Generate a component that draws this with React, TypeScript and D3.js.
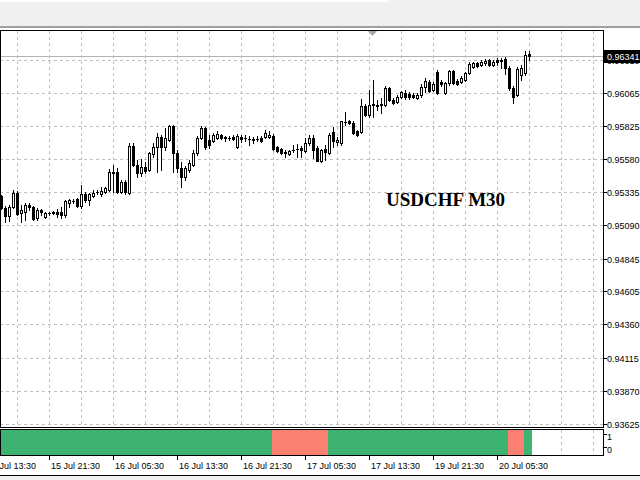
import React from 'react';
import * as d3 from 'd3';

// USDCHF M30 candles (bar 0 = oldest visible)
const openP = [
  0.95306, 0.95217, 0.95158, 0.95225, 0.95328, 0.95181, 0.95188, 0.95240, 0.95225, 0.95144,
  0.95203, 0.95151, 0.95181, 0.95181, 0.95188, 0.95188, 0.95166, 0.95254, 0.95269, 0.95284,
  0.95232, 0.95321, 0.95276, 0.95306, 0.95335, 0.95321, 0.95335, 0.95350, 0.95483, 0.95483,
  0.95335, 0.95409, 0.95328, 0.95674, 0.95534, 0.95475, 0.95520, 0.95497, 0.95615, 0.95667,
  0.95741, 0.95667, 0.95719, 0.95822, 0.95623, 0.95512, 0.95446, 0.95497, 0.95534, 0.95623,
  0.95733, 0.95807, 0.95719, 0.95711, 0.95733, 0.95755, 0.95733, 0.95733, 0.95741, 0.95667,
  0.95741, 0.95733, 0.95726, 0.95726, 0.95726, 0.95733, 0.95741, 0.95741, 0.95748, 0.95667,
  0.95652, 0.95630, 0.95615, 0.95645, 0.95652, 0.95660, 0.95638, 0.95696, 0.95733, 0.95660,
  0.95564, 0.95652, 0.95623, 0.95778, 0.95704, 0.95696, 0.95851, 0.95859, 0.95844, 0.95785,
  0.95778, 0.95969, 0.95903, 0.95977, 0.95977, 0.95977, 0.95977, 0.96102, 0.96013, 0.95999,
  0.96036, 0.96065, 0.96058, 0.96050, 0.96028, 0.96050, 0.96109, 0.96146, 0.96087, 0.96220,
  0.96146, 0.96065, 0.96139, 0.96227, 0.96153, 0.96146, 0.96161, 0.96212, 0.96257, 0.96286,
  0.96271, 0.96286, 0.96308, 0.96271, 0.96308, 0.96308, 0.96316, 0.96249, 0.96102, 0.96050,
  0.96198, 0.96212, 0.96352,
];
const highP = [
  0.95313, 0.95232, 0.95240, 0.95350, 0.95343, 0.95240, 0.95254, 0.95254, 0.95232, 0.95217,
  0.95210, 0.95188, 0.95188, 0.95195, 0.95210, 0.95225, 0.95276, 0.95284, 0.95284, 0.95291,
  0.95387, 0.95335, 0.95328, 0.95350, 0.95350, 0.95372, 0.95372, 0.95505, 0.95534, 0.95512,
  0.95424, 0.95424, 0.95696, 0.95696, 0.95571, 0.95579, 0.95556, 0.95630, 0.95696, 0.95770,
  0.95755, 0.95807, 0.95829, 0.95829, 0.95645, 0.95556, 0.95527, 0.95571, 0.95645, 0.95748,
  0.95822, 0.95814, 0.95755, 0.95770, 0.95785, 0.95763, 0.95748, 0.95748, 0.95755, 0.95763,
  0.95755, 0.95755, 0.95748, 0.95741, 0.95748, 0.95748, 0.95792, 0.95785, 0.95763, 0.95674,
  0.95660, 0.95645, 0.95645, 0.95682, 0.95689, 0.95674, 0.95733, 0.95755, 0.95755, 0.95674,
  0.95652, 0.95682, 0.95770, 0.95814, 0.95741, 0.95859, 0.95925, 0.95866, 0.95859, 0.95792,
  0.96021, 0.95984, 0.96087, 0.96161, 0.96013, 0.96028, 0.96117, 0.96109, 0.96028, 0.96050,
  0.96080, 0.96087, 0.96072, 0.96065, 0.96065, 0.96131, 0.96176, 0.96161, 0.96146, 0.96235,
  0.96161, 0.96146, 0.96235, 0.96235, 0.96168, 0.96190, 0.96220, 0.96293, 0.96293, 0.96293,
  0.96308, 0.96316, 0.96316, 0.96308, 0.96323, 0.96323, 0.96330, 0.96264, 0.96117, 0.96257,
  0.96271, 0.96374, 0.96374,
];
const lowP = [
  0.95210, 0.95114, 0.95122, 0.95217, 0.95166, 0.95114, 0.95129, 0.95203, 0.95129, 0.95129,
  0.95166, 0.95144, 0.95166, 0.95173, 0.95151, 0.95144, 0.95151, 0.95225, 0.95254, 0.95225,
  0.95217, 0.95262, 0.95240, 0.95298, 0.95321, 0.95306, 0.95328, 0.95343, 0.95335, 0.95328,
  0.95328, 0.95321, 0.95321, 0.95527, 0.95446, 0.95453, 0.95475, 0.95490, 0.95593, 0.95483,
  0.95497, 0.95645, 0.95711, 0.95483, 0.95483, 0.95372, 0.95424, 0.95483, 0.95527, 0.95608,
  0.95726, 0.95652, 0.95660, 0.95704, 0.95726, 0.95726, 0.95711, 0.95719, 0.95719, 0.95660,
  0.95704, 0.95711, 0.95682, 0.95696, 0.95711, 0.95704, 0.95733, 0.95733, 0.95645, 0.95630,
  0.95615, 0.95593, 0.95608, 0.95630, 0.95593, 0.95593, 0.95630, 0.95682, 0.95586, 0.95564,
  0.95556, 0.95571, 0.95615, 0.95667, 0.95682, 0.95682, 0.95829, 0.95836, 0.95763, 0.95748,
  0.95770, 0.95895, 0.95888, 0.95888, 0.95940, 0.95918, 0.95969, 0.96006, 0.95984, 0.95991,
  0.96028, 0.96021, 0.96021, 0.96028, 0.96021, 0.96036, 0.96072, 0.96072, 0.96080, 0.96058,
  0.96117, 0.96058, 0.96124, 0.96131, 0.96124, 0.96139, 0.96153, 0.96205, 0.96249, 0.96257,
  0.96264, 0.96271, 0.96264, 0.96264, 0.96271, 0.96249, 0.96205, 0.96087, 0.95991, 0.96043,
  0.96161, 0.96198, 0.96308,
];
const closeP = [
  0.95217, 0.95158, 0.95225, 0.95328, 0.95173, 0.95203, 0.95240, 0.95225, 0.95136, 0.95203,
  0.95188, 0.95181, 0.95181, 0.95188, 0.95173, 0.95166, 0.95269, 0.95276, 0.95269, 0.95232,
  0.95321, 0.95276, 0.95321, 0.95328, 0.95335, 0.95343, 0.95365, 0.95483, 0.95475, 0.95335,
  0.95409, 0.95335, 0.95674, 0.95534, 0.95475, 0.95520, 0.95490, 0.95623, 0.95667, 0.95741,
  0.95667, 0.95733, 0.95822, 0.95623, 0.95512, 0.95446, 0.95512, 0.95549, 0.95623, 0.95733,
  0.95807, 0.95667, 0.95682, 0.95755, 0.95763, 0.95733, 0.95741, 0.95733, 0.95726, 0.95748,
  0.95726, 0.95733, 0.95726, 0.95719, 0.95726, 0.95711, 0.95770, 0.95755, 0.95652, 0.95638,
  0.95623, 0.95623, 0.95638, 0.95645, 0.95652, 0.95645, 0.95696, 0.95733, 0.95645, 0.95564,
  0.95645, 0.95630, 0.95755, 0.95711, 0.95719, 0.95859, 0.95851, 0.95844, 0.95770, 0.95755,
  0.95969, 0.95903, 0.95977, 0.95984, 0.95969, 0.95984, 0.96102, 0.96013, 0.95991, 0.96036,
  0.96072, 0.96036, 0.96036, 0.96036, 0.96050, 0.96109, 0.96153, 0.96080, 0.96131, 0.96065,
  0.96131, 0.96139, 0.96227, 0.96139, 0.96131, 0.96176, 0.96212, 0.96279, 0.96286, 0.96264,
  0.96293, 0.96301, 0.96271, 0.96293, 0.96293, 0.96301, 0.96249, 0.96102, 0.96036, 0.96242,
  0.96249, 0.96345, 0.96341,
];
// indicator state per bar: 1 = up (green), 0 = down (salmon)
const trendState = [
  1, 1, 1, 1, 1, 1, 1, 1, 1, 1, 1, 1, 1, 1, 1, 1, 1, 1, 1, 1,
  1, 1, 1, 1, 1, 1, 1, 1, 1, 1, 1, 1, 1, 1, 1, 1, 1, 1, 1, 1,
  1, 1, 1, 1, 1, 1, 1, 1, 1, 1, 1, 1, 1, 1, 1, 1, 1, 1, 1, 1,
  1, 1, 1, 1, 1, 1, 1, 1, 0, 0, 0, 0, 0, 0, 0, 0, 0, 0, 0, 0,
  0, 0, 1, 1, 1, 1, 1, 1, 1, 1, 1, 1, 1, 1, 1, 1, 1, 1, 1, 1,
  1, 1, 1, 1, 1, 1, 1, 1, 1, 1, 1, 1, 1, 1, 1, 1, 1, 1, 1, 1,
  1, 1, 1, 1, 1, 1, 1, 0, 0, 0, 0, 1, 1,
];
const priceTicks = [0.96310, 0.96065, 0.95825, 0.95580, 0.95335, 0.95090, 0.94845, 0.94605, 0.94360, 0.94115, 0.93870, 0.93625];
const timeLabels = ['15 Jul 13:30', '15 Jul 21:30', '16 Jul 05:30', '16 Jul 13:30', '16 Jul 21:30', '17 Jul 05:30', '17 Jul 13:30', '19 Jul 21:30', '20 Jul 05:30'];
const timeLabelBars = [-4, 12, 28, 44, 60, 76, 92, 108, 124];
const indicatorTicks = [1, 0];
const chartTitle = 'USDCHF M30';
const bidPrice = 0.96341;

const W = 640;
const H = 480;
const FRAME_L = 0;
const FRAME_R = 603;
const MAIN_T = 30;
const MAIN_B = 427;
const PANEL_T = 429;
const PANEL_B = 455;
const GRID = '#c0c0c0';
const UP = '#3cb371';
const DOWN = '#fa8072';
const FONT = "'Liberation Sans', Arial, sans-serif";

export default function App() {
  const n = closeP.length;
  const x = d3.scaleLinear().domain([0, n - 1]).range([1, 1 + 4 * (n - 1)]);
  const y = d3.scaleLinear().domain([0.93625, 0.96065]).range([424, 93]);
  const yInd = d3.scaleLinear().domain([0, 1]).range([PANEL_B, PANEL_T + 1]);
  const gridBars = d3.range(4, 150, 8);
  const fmt = d3.format('.5f');
  const bidY = Math.round(y(bidPrice));

  return (
    <svg width={W} height={H} style={{ position: 'fixed', left: 0, top: 0, background: '#fff' }} shapeRendering="crispEdges">
      <rect x={0} y={0} width={W} height={H} fill="#ffffff" />
      {/* top toolbar strip */}
      <rect x={0} y={0} width={W} height={26} fill="#f0f0f0" />
      <rect x={0} y={0} width={388} height={2} fill="#ffffff" />
      <rect x={0} y={26} width={W} height={2} fill="#a0a0a0" />

      {/* main grid */}
      <g stroke={GRID} strokeDasharray="3,3" strokeWidth={1}>
        {priceTicks.map((p) => {
          const yy = Math.round(y(p)) + 0.5;
          return <line key={'h' + p} x1={FRAME_L} x2={FRAME_R} y1={yy} y2={yy} />;
        })}
        {gridBars.map((b) => {
          const xx = Math.round(x(b)) + 0.5;
          return (
            <g key={'v' + b}>
              <line x1={xx} x2={xx} y1={MAIN_T + 1} y2={MAIN_B} />
              <line x1={xx} x2={xx} y1={PANEL_T + 1} y2={PANEL_B} />
            </g>
          );
        })}
      </g>

      {/* bid line */}
      <line x1={FRAME_L} x2={FRAME_R} y1={bidY + 0.5} y2={bidY + 0.5} stroke="#b4b4b4" />

      {/* candles */}
      <g>
        {closeP.map((c, i) => {
          const o = openP[i];
          const cx = Math.round(x(i));
          const yo = Math.round(y(o));
          const yc = Math.round(y(c));
          const yh = Math.round(y(highP[i]));
          const yl = Math.round(y(lowP[i]));
          const top = Math.min(yo, yc);
          const bot = Math.max(yo, yc);
          let body;
          if (bot - top < 1) {
            body = <rect x={cx - 1} y={top} width={3} height={1} fill="#000" />;
          } else if (c > o) {
            body = <rect x={cx - 0.5} y={top + 0.5} width={2} height={bot - top} fill="#fff" stroke="#000" strokeWidth={1} />;
          } else {
            body = <rect x={cx - 1} y={top} width={3} height={bot - top + 1} fill="#000" />;
          }
          return (
            <g key={'c' + i}>
              <line x1={cx + 0.5} x2={cx + 0.5} y1={yh} y2={yl + 1} stroke="#000" />
              {body}
            </g>
          );
        })}
      </g>

      {/* title */}
      <text x={386} y={206} fontFamily="'Liberation Serif', 'Times New Roman', serif" fontWeight="bold" fontSize={19} fill="#000">
        {chartTitle}
      </text>

      {/* indicator panel */}
      <g>
        {trendState.map((s, i) => {
          const cx = Math.round(x(i));
          return (
            <rect
              key={'ind' + i}
              x={cx - 1}
              y={yInd(1)}
              width={4}
              height={yInd(0) - yInd(1)}
              fill={s === 1 ? UP : DOWN}
            />
          );
        })}
      </g>

      {/* frames */}
      <g fill="none" stroke="#000" strokeWidth={1}>
        <line x1={FRAME_L + 0.5} x2={FRAME_L + 0.5} y1={MAIN_T} y2={MAIN_B + 1} />
        <line x1={FRAME_L} x2={FRAME_R + 1} y1={MAIN_T + 0.5} y2={MAIN_T + 0.5} />
        <line x1={FRAME_L} x2={FRAME_R + 1} y1={MAIN_B + 0.5} y2={MAIN_B + 0.5} />
        <line x1={FRAME_R + 0.5} x2={FRAME_R + 0.5} y1={MAIN_T} y2={MAIN_B + 1} />
        <line x1={FRAME_L} x2={FRAME_R + 1} y1={PANEL_T + 0.5} y2={PANEL_T + 0.5} />
        <line x1={FRAME_L} x2={FRAME_R + 1} y1={PANEL_B + 0.5} y2={PANEL_B + 0.5} />
        <line x1={FRAME_R + 0.5} x2={FRAME_R + 0.5} y1={PANEL_T} y2={PANEL_B + 1} />
        <line x1={FRAME_L + 0.5} x2={FRAME_L + 0.5} y1={PANEL_T} y2={PANEL_B + 1} />
      </g>

      {/* shift marker */}
      <path d="M368,31 L377,31 L372.5,36 Z" fill="#a8a8a8" shapeRendering="auto" />

      {/* price axis */}
      <g fontFamily={FONT} fontSize={9} fill="#000">
        {priceTicks.map((p) => {
          const yy = Math.round(y(p));
          return (
            <g key={'pt' + p}>
              <line x1={FRAME_R + 1} x2={FRAME_R + 4} y1={yy + 0.5} y2={yy + 0.5} stroke="#000" />
              <text x={607} y={yy + 3.5}>{fmt(p)}</text>
            </g>
          );
        })}
        <rect x={FRAME_R + 1} y={bidY - 6} width={W - FRAME_R - 1} height={13} fill="#000" />
        <text x={607} y={bidY + 3.5} fill="#fff">{fmt(bidPrice)}</text>
        {indicatorTicks.map((v) => {
          const yy = v === 1 ? 434 : 447;
          return (
            <g key={'it' + v}>
              <line x1={FRAME_R + 1} x2={FRAME_R + 4} y1={yy + 0.5} y2={yy + 0.5} stroke="#000" />
              <text x={607} y={yy + 6}>{String(v)}</text>
            </g>
          );
        })}
      </g>

      {/* time axis */}
      <g fontFamily={FONT} fontSize={9} fill="#000">
        {timeLabels.map((t, k) => {
          const xx = Math.round(x(timeLabelBars[k]));
          return (
            <g key={'t' + k}>
              <line x1={xx + 0.5} x2={xx + 0.5} y1={PANEL_B + 1} y2={PANEL_B + 5} stroke="#000" />
              <text x={xx + 2} y={469}>{t}</text>
            </g>
          );
        })}
      </g>

      {/* bottom window edge */}
      <rect x={0} y={475} width={W} height={5} fill="#f0f0f0" />
      <line x1={0} x2={W} y1={475.5} y2={475.5} stroke="#000" />
    </svg>
  );
}
